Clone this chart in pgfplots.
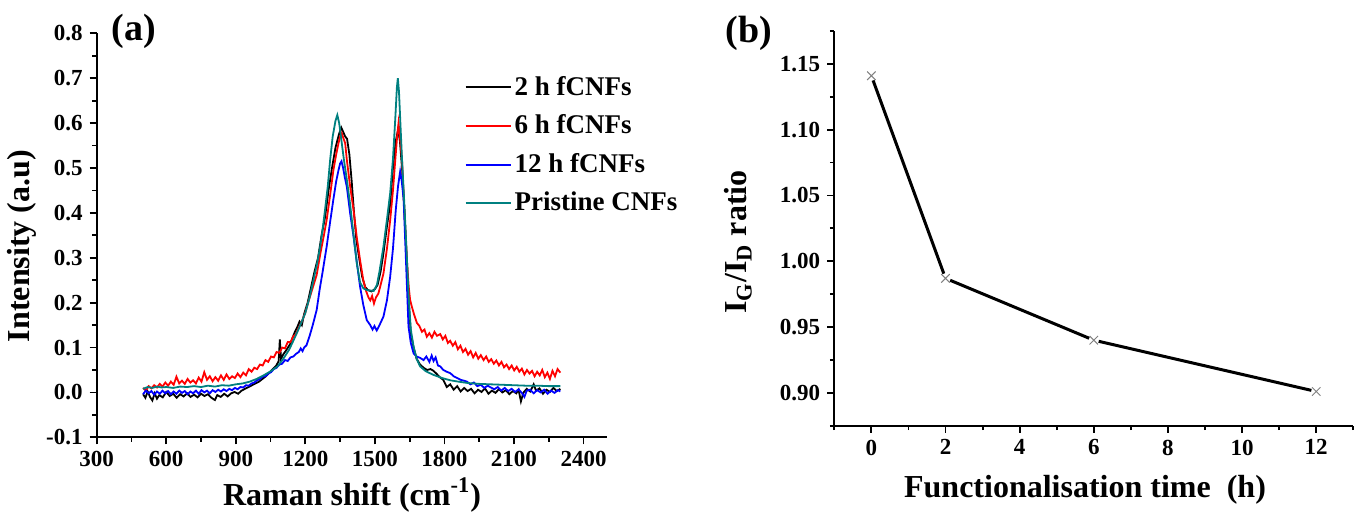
\documentclass[border=0pt]{standalone}
\usepackage{fontspec}
\setmainfont{Liberation Serif}
\usepackage{pgfplots}
\pgfplotsset{compat=1.18}
\definecolor{tealc}{RGB}{0,128,128}
\begin{document}
\begin{tikzpicture}
\begin{axis}[
 at={(48.35pt,38.35pt)}, anchor=south west,
 width=255pt, height=202pt, scale only axis,
 xmin=300, xmax=2500, ymin=-0.1, ymax=0.8,
 axis lines=left, axis line style={-, line width=1pt},
 tick align=outside, major tick length=3.5pt, minor tick length=2.25pt,
 tick style={black, line width=0.9pt},
 xtick={300,600,900,1200,1500,1800,2100,2400},
 xticklabels={300,600,900,1200,1500,1800,2100,2400},
 minor xtick={450,750,1050,1350,1650,1950,2250},
 ytick={-0.1,0,0.1,0.2,0.3,0.4,0.5,0.6,0.7,0.8},
 yticklabels={-0.1,0.0,0.1,0.2,0.3,0.4,0.5,0.6,0.7,0.8},
 minor ytick={-0.05,0.05,0.15,0.25,0.35,0.45,0.55,0.65,0.75},
 tick label style={font=\fontsize{11.5}{11.5}\selectfont\bfseries},
 legend style={draw=none, fill=none, at={(axis cs:1885,0.705)}, anchor=north west,
   inner sep=0pt, row sep=8.3pt, font=\fontsize{13.5}{13.5}\selectfont\bfseries,
   nodes={inner xsep=1.5pt, inner ysep=0pt}},
 legend cell align=left,
 legend image code/.code={\draw[#1, line width=1pt] (0pt,0pt) -- (22.5pt,0pt);},
]
\addplot[black, line width=0.9pt] table {
x y
500 -0.004
510 -0.012
520 0.002
530 -0.010
540 -0.018
550 -0.002
560 -0.014
570 -0.006
585 -0.011
600 0.001
615 -0.008
630 -0.003
645 -0.012
660 -0.004
675 -0.009
690 -0.002
705 -0.010
720 -0.005
735 -0.011
750 -0.003
765 -0.008
780 -0.004
795 -0.012
810 -0.017
820 -0.006
835 -0.010
850 -0.003
865 -0.009
880 -0.002
895 0.001
910 -0.003
925 0.004
940 0.008
955 0.012
970 0.016
985 0.020
1000 0.024
1015 0.030
1030 0.036
1045 0.044
1060 0.052
1075 0.060
1085 0.070
1090 0.118
1095 0.075
1105 0.085
1115 0.092
1125 0.100
1135 0.108
1145 0.122
1155 0.135
1165 0.145
1175 0.158
1185 0.150
1195 0.175
1210 0.200
1225 0.235
1240 0.270
1255 0.300
1270 0.350
1285 0.390
1300 0.450
1315 0.500
1330 0.545
1345 0.575
1355 0.590
1362 0.582
1372 0.570
1380 0.565
1390 0.530
1400 0.470
1410 0.400
1420 0.340
1432 0.300
1445 0.258
1458 0.235
1470 0.228
1485 0.225
1500 0.230
1512 0.240
1525 0.270
1537 0.310
1552 0.370
1566 0.420
1578 0.500
1590 0.560
1600 0.585
1608 0.560
1617 0.500
1628 0.400
1638 0.290
1646 0.200
1655 0.130
1667 0.100
1680 0.075
1695 0.062
1710 0.055
1725 0.050
1740 0.052
1753 0.048
1765 0.042
1780 0.034
1795 0.028
1810 0.012
1825 0.018
1840 0.006
1855 0.014
1870 0.002
1885 0.010
1900 0.003
1915 0.008
1930 -0.002
1945 0.006
1960 0.001
1975 0.009
1990 -0.003
2005 0.004
2020 -0.001
2035 0.007
2050 0.000
2065 0.005
2080 -0.004
2095 0.003
2110 -0.002
2120 0.006
2130 -0.020
2140 -0.001
2155 0.008
2170 0.002
2185 0.018
2195 0.004
2210 0.009
2225 -0.003
2240 0.006
2255 0.001
2270 0.010
2285 0.003
2300 0.008
};
\addlegendentry{2 h fCNFs}
\addplot[red, line width=0.9pt] table {
x y
500 0.010
512 0.004
524 0.014
536 0.009
548 0.016
560 0.011
572 0.019
584 0.013
596 0.022
608 0.015
620 0.024
632 0.017
644 0.035
656 0.020
668 0.026
680 0.019
692 0.030
704 0.022
716 0.027
728 0.020
740 0.033
752 0.024
764 0.045
776 0.028
788 0.036
800 0.025
812 0.034
824 0.026
836 0.038
848 0.028
860 0.040
872 0.030
884 0.036
896 0.032
908 0.042
920 0.034
932 0.044
944 0.038
956 0.052
968 0.046
980 0.055
992 0.052
1004 0.062
1016 0.060
1028 0.072
1040 0.068
1052 0.080
1064 0.078
1076 0.090
1088 0.088
1100 0.100
1112 0.098
1124 0.112
1136 0.112
1148 0.125
1160 0.130
1172 0.145
1185 0.158
1200 0.178
1215 0.205
1230 0.230
1249 0.262
1265 0.310
1280 0.350
1292 0.384
1307 0.440
1321 0.495
1333 0.530
1343 0.555
1350 0.570
1357 0.578
1365 0.565
1372 0.555
1379 0.518
1393 0.460
1408 0.406
1422 0.345
1436 0.295
1450 0.250
1462 0.226
1472 0.212
1480 0.205
1488 0.215
1496 0.198
1505 0.212
1515 0.220
1525 0.240
1537 0.265
1552 0.320
1566 0.384
1578 0.450
1588 0.518
1596 0.570
1602 0.600
1608 0.570
1617 0.518
1627 0.406
1638 0.295
1646 0.235
1652 0.206
1660 0.190
1670 0.172
1681 0.155
1692 0.148
1703 0.135
1714 0.140
1724 0.124
1735 0.132
1746 0.122
1757 0.135
1768 0.126
1782 0.130
1793 0.118
1804 0.126
1815 0.110
1825 0.115
1836 0.104
1847 0.112
1858 0.096
1869 0.104
1880 0.090
1891 0.097
1902 0.084
1913 0.092
1924 0.078
1935 0.088
1946 0.075
1957 0.083
1969 0.072
1980 0.080
1991 0.068
2002 0.074
2013 0.064
2024 0.071
2035 0.060
2046 0.068
2057 0.056
2068 0.062
2079 0.052
2090 0.060
2101 0.049
2112 0.057
2123 0.046
2134 0.053
2145 0.040
2156 0.050
2167 0.042
2178 0.048
2189 0.036
2200 0.046
2211 0.038
2222 0.050
2233 0.034
2244 0.044
2255 0.030
2266 0.048
2277 0.036
2288 0.052
2300 0.044
};
\addlegendentry{6 h fCNFs}
\addplot[blue, line width=0.9pt] table {
x y
500 -0.004
512 0.004
524 -0.002
536 0.003
548 -0.005
560 0.002
572 -0.003
584 0.004
596 -0.002
608 0.003
620 -0.004
632 0.002
644 -0.003
656 0.004
668 -0.001
680 0.003
692 -0.004
704 0.002
716 -0.002
728 0.004
740 -0.003
752 0.005
764 0.000
776 0.004
788 -0.002
800 0.005
812 0.001
824 0.006
836 0.002
848 0.007
860 0.003
872 0.008
884 0.005
896 0.010
908 0.007
920 0.012
932 0.011
944 0.016
956 0.015
968 0.020
980 0.022
992 0.027
1004 0.030
1016 0.035
1028 0.036
1040 0.042
1052 0.045
1064 0.052
1076 0.055
1088 0.062
1100 0.064
1112 0.072
1124 0.070
1136 0.078
1148 0.080
1160 0.086
1172 0.090
1180 0.098
1188 0.092
1195 0.100
1205 0.105
1218 0.125
1232 0.150
1249 0.184
1262 0.230
1275 0.270
1292 0.325
1307 0.380
1321 0.430
1333 0.470
1343 0.495
1350 0.510
1356 0.515
1363 0.500
1370 0.480
1379 0.458
1393 0.400
1408 0.347
1422 0.290
1436 0.236
1450 0.195
1465 0.161
1480 0.150
1490 0.140
1498 0.148
1508 0.138
1520 0.150
1537 0.169
1552 0.205
1566 0.258
1578 0.320
1590 0.406
1600 0.460
1609 0.492
1616 0.470
1624 0.430
1634 0.295
1645 0.147
1655 0.110
1667 0.087
1680 0.080
1695 0.077
1710 0.072
1722 0.080
1735 0.068
1745 0.082
1753 0.070
1762 0.078
1772 0.060
1782 0.058
1795 0.050
1810 0.046
1825 0.043
1840 0.036
1855 0.032
1870 0.028
1885 0.026
1897 0.024
1912 0.018
1927 0.022
1942 0.014
1957 0.017
1972 0.010
1987 0.015
2000 0.011
2015 0.007
2030 0.012
2045 0.004
2060 0.010
2075 0.003
2090 0.008
2105 0.001
2120 0.007
2135 -0.002
2145 -0.010
2155 0.004
2170 0.006
2185 -0.002
2200 0.005
2215 0.000
2230 0.006
2245 -0.003
2260 0.004
2275 -0.001
2290 0.005
2300 0.002
};
\addlegendentry{12 h fCNFs}
\addplot[tealc, line width=0.9pt] table {
x y
500 0.008
520 0.012
540 0.010
560 0.013
580 0.011
600 0.012
630 0.010
660 0.013
690 0.012
720 0.014
750 0.012
780 0.015
810 0.013
840 0.016
870 0.015
900 0.018
930 0.020
960 0.024
990 0.030
1020 0.038
1050 0.047
1080 0.058
1105 0.075
1130 0.095
1150 0.117
1170 0.140
1200 0.177
1220 0.215
1235 0.250
1250 0.285
1264 0.325
1275 0.365
1285 0.407
1297 0.460
1307 0.518
1318 0.570
1330 0.605
1338 0.618
1346 0.600
1356 0.560
1366 0.520
1380 0.470
1393 0.420
1408 0.350
1422 0.288
1436 0.245
1450 0.232
1465 0.228
1480 0.227
1495 0.226
1509 0.240
1520 0.270
1537 0.325
1552 0.385
1566 0.444
1578 0.520
1588 0.610
1595 0.680
1599 0.700
1604 0.670
1610 0.600
1617 0.520
1628 0.410
1638 0.300
1646 0.210
1655 0.140
1667 0.102
1680 0.075
1695 0.058
1720 0.047
1753 0.039
1790 0.032
1825 0.027
1860 0.024
1900 0.021
1950 0.019
2000 0.018
2050 0.017
2100 0.016
2150 0.015
2200 0.015
2250 0.014
2300 0.014
};
\addlegendentry{Pristine CNFs}
\end{axis}

\begin{axis}[
 at={(417.15pt,44.15pt)}, anchor=south west,
 width=259.5pt, height=197.35pt, scale only axis,
 xmin=-1, xmax=13, ymin=0.875, ymax=1.175,
 axis lines=left, axis line style={-, line width=1pt},
 tick align=outside, major tick length=3.5pt, minor tick length=2.25pt,
 tick style={black, line width=0.9pt},
 xtick={0,2,4,6,8,10,12}, xticklabels={0,2,4,6,8,10,12},
 minor xtick={-1,1,3,5,7,9,11,13},
 ytick={0.9,0.95,1,1.05,1.1,1.15},
 yticklabels={0.90,0.95,1.00,1.05,1.10,1.15},
 minor ytick={0.875,0.925,0.975,1.025,1.075,1.125,1.175},
 tick label style={font=\fontsize{11.5}{11.5}\selectfont\bfseries},
]
\addplot[black, line width=1.5pt, shorten <=2.5pt, shorten >=2.5pt] coordinates {(0,1.141) (2,0.987)};
\addplot[black, line width=1.5pt, shorten <=2.5pt, shorten >=2.5pt] coordinates {(2,0.987) (6,0.940)};
\addplot[black, line width=1.5pt, shorten <=2.5pt, shorten >=2.5pt] coordinates {(6,0.940) (12,0.901)};
\addplot[only marks, mark=x, mark size=3pt, mark options={gray, line width=0.5pt}] coordinates {
(0,1.141) (2,0.987) (6,0.940) (12,0.901)};
\end{axis}

\node[font=\fontsize{16}{16}\selectfont\bfseries, anchor=base] at (176pt,4.5pt) {Raman shift (cm\textsuperscript{-1})};
\node[font=\fontsize{16}{16}\selectfont\bfseries, rotate=90, inner sep=0pt] at (11pt,134pt) {Intensity (a.u)};
\node[font=\fontsize{16}{16}\selectfont\bfseries, anchor=base] at (542.5pt,8.5pt) {Functionalisation time~~(h)};
\node[font=\fontsize{16}{16}\selectfont\bfseries, rotate=90, inner sep=0pt] at (369pt,136pt) {I\textsubscript{G}/I\textsubscript{D} ratio};
\node[font=\fontsize{19}{19}\selectfont\bfseries, inner sep=0pt] at (67pt,241.5pt) {(a)};
\node[font=\fontsize{19}{19}\selectfont\bfseries, inner sep=0pt] at (374.5pt,240.5pt) {(b)};
\pgfresetboundingbox
\useasboundingbox (0,0) rectangle (682pt,257pt);
\end{tikzpicture}
\end{document}
